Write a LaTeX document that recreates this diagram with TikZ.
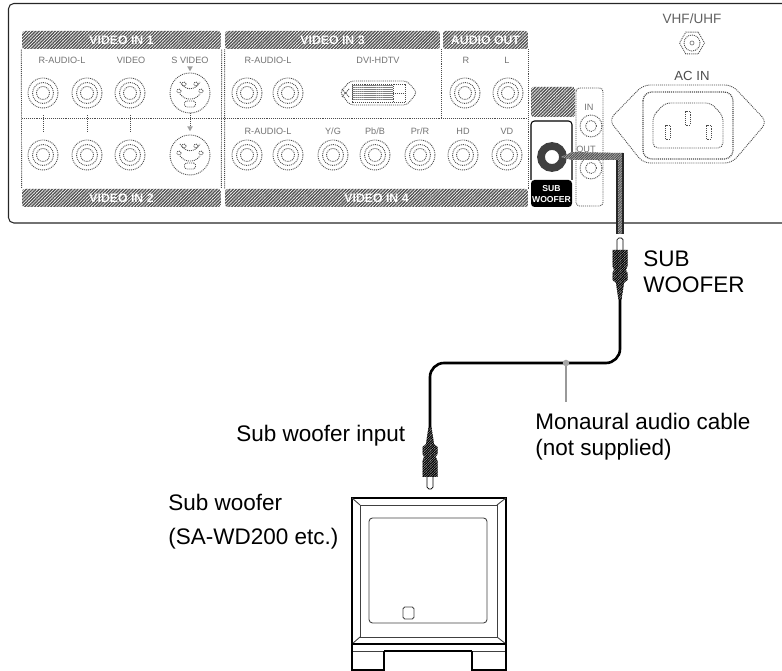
\documentclass[tikz,border=0pt]{standalone}
\usepackage{fontspec}
\setmainfont{Liberation Sans}
\usetikzlibrary{patterns.meta,shapes.geometric,calc}
\definecolor{jackgray}{gray}{0.3}
\tikzset{
  lbl/.style={inner sep=0pt, anchor=north west, align=left, font=\fontsize{12.8}{14.9}\selectfont},
  tag/.style={inner sep=0pt, text=gray!90!black, font=\fontsize{5.2}{6}\selectfont},
  bar/.style={rectangle, rounded corners=1.5pt, inner sep=0pt, minimum height=0.36cm, text=white,
    font=\fontsize{7}{8}\bfseries\selectfont, pattern={Lines[angle=45,distance=1.3pt,line width=0.8pt]}, pattern color=gray!65!black},
  dots/.style={jackgray, line width=0.5pt, dash pattern=on 0.55pt off 0.55pt},
  jack/.style={circle, draw, dots, inner sep=0pt, minimum size=0.6cm},
  jackmid/.style={circle, draw, dots, inner sep=0pt, minimum size=0.42cm},
  jackin/.style={circle, draw, dots, inner sep=0pt, minimum size=0.26cm},
  svid/.style={circle, draw, dots, inner sep=0pt, minimum size=0.8cm},
  pinhole/.style={circle, draw, dots, inner sep=0pt, minimum size=0.08cm},
  marker/.style={regular polygon, regular polygon sides=3, shape border rotate=180, fill=gray!75, inner sep=0pt, minimum size=0.13cm},
  plug/.pic={
    \fill[gray!55] (-1.5,0) -- (-4,-17) -- (-7.5,-20) -- (-7.5,-27) -- (-6,-30) -- (-7.5,-34) -- (-7.5,-50) -- (7.5,-50) -- (7.5,-34) -- (6,-30) -- (7.5,-27) -- (7.5,-20) -- (4,-17) -- (1.5,0) -- cycle;
    \fill[pattern={Lines[angle=45,distance=1pt,line width=0.7pt]}, pattern color=black]
      (-1.5,0) -- (-4,-17) -- (-7.5,-20) -- (-7.5,-27) -- (-6,-30) -- (-7.5,-34) -- (-7.5,-50) -- (7.5,-50) -- (7.5,-34) -- (6,-30) -- (7.5,-27) -- (7.5,-20) -- (4,-17) -- (1.5,0) -- cycle;
    \draw[line width=0.4pt, rounded corners=1pt] (-3,-50) -- (-3,-62) -- (3,-62) -- (3,-50);
    \coordinate (-tail) at (0,0);
  },
}
\begin{document}
\begin{tikzpicture}[x=0.02cm, y=-0.02cm]
  \useasboundingbox (0,0) rectangle (782,671);
  % rear panel
  \draw[line width=0.6pt, black!85, rounded corners=3pt] (782,3.5) -- (8.5,3.5) -- (8.5,223) -- (782,223);

  \node[bar, minimum width=3.98cm] (bar1) at (121.5,40) {VIDEO IN 1};
  \node[bar, minimum width=3.98cm] (bar2) at (121.5,198) {VIDEO IN 2};
  \node[bar, minimum width=4.3cm] (bar3) at (332.5,40) {VIDEO IN 3};
  \node[bar, minimum width=6.06cm] (bar4) at (376.5,198) {VIDEO IN 4};
  \node[bar, minimum width=1.7cm] (barout) at (485.5,40) {AUDIO OUT};

  \draw[dots] (bar1.south west) -- (bar2.north west);
  \draw[dots] (bar1.south east) -- (bar2.north east);
  \draw[dots] (bar3.south west) -- (bar4.north west);
  \draw[dots] (barout.south east) -- (barout.south east |- bar4.north);
  \draw[dots, line width=1pt] (441.5,49) -- (441.5,118);
  \draw[dots] (22,118) -- (528,118);

  % labels above the sockets
  \foreach \nm/\px/\py/\txt in {ta/62/60/R-AUDIO-L, tb/131/60/VIDEO, tc/190/60/S VIDEO, td/268/60/R-AUDIO-L,
      te/378/60/DVI-HDTV, tf/466/60/R, tg/507/60/L, th/268/131/R-AUDIO-L, ti/333/131/{Y/G}, tj/375/131/{Pb/B},
      tk/420/131/{Pr/R}, tl/463/131/HD, tm/507/131/VD, tn/589/107/IN, to/586/149/OUT}
    \node[tag] (\nm) at (\px,\py) {\txt};

  % round sockets
  \foreach \nm/\px/\py in {ja/43/93, jb/87/93, jc/130/93, ka/43/155, kb/87/155, kc/130/155,
      jd/247/93, je/288/93, jf/465/93, jg/508/93,
      kd/247/155, ke/288/155, kf/333/155, kg/375/155, kh/420/155, ki/463/155, kj/507/155} {
    \node[jack] (\nm) at (\px,\py) {};
    \node[jackmid] (\nm m) at (\nm) {};
    \node[jackin] (\nm i) at (\nm) {};
  }
  \foreach \a/\b in {ja/ka, jb/kb, jc/kc}
    \draw[dots, shorten <=0.14cm, shorten >=0.14cm] (\a) -- (\b);

  % S video sockets
  \foreach \nm/\py in {sa/93, sb/155} {
    \node[svid] (\nm) at (190,\py) {};
    \foreach \k/\dx/\dy in {p/-11/-2, q/11/-2, r/-6/-9, s/6/-9}
      \node[pinhole] (\nm\k) at (190+\dx,\py+\dy) {};
    \draw[dots] (180,\py-11) .. controls (185,\py-2) and (195,\py-2) .. (200,\py-11);
    \draw[dots, rounded corners=2pt] (180,\py+1) -- (185,\py+6) -- (195,\py+6) -- (200,\py+1);
    \node[draw, dots, rounded corners=1pt, inner sep=0pt, minimum width=0.22cm, minimum height=0.12cm] (\nm t) at (190,\py+11) {};
  }
  \node[marker] (mka) at (190,68) {};
  \node[marker] (mkb) at (190,128) {};
  \draw[dots] (sa) -- (mkb);

  % DVI socket
  \draw[dots, rounded corners=2pt] (340,92.5) -- (350,81) -- (407,81) -- (417,92.5) -- (407,105) -- (350,105) -- cycle;
  \fill[pattern={Lines[angle=0,distance=1.2pt,line width=0.4pt]}, pattern color=gray] (352,85) rectangle (393,101);
  \draw[dots] (352,84) rectangle (405,102) (393,84) -- (393,102) (393,93) -- (405,93);
  \draw[dots] (342,89) -- (349,97) (342,97) -- (349,89);

  % aerial socket and mains inlet
  \node[inner sep=0pt, text=gray!75!black, font=\fontsize{7.7}{9}\selectfont] (vhf) at (692,19) {VHF/UHF};
  \node[regular polygon, regular polygon sides=6, draw, dots, inner sep=0pt, minimum size=0.5cm] (ant) at (692,43) {};
  \node[circle, draw, dots, inner sep=0pt, minimum size=0.32cm] (antm) at (ant) {};
  \node[circle, draw, gray, line width=0.4pt, inner sep=0pt, minimum size=0.08cm] (anti) at (ant) {};
  \node[inner sep=0pt, text=gray!60!black, font=\fontsize{7.5}{9}\selectfont] (acin) at (692,76) {AC IN};
  \draw[dots, rounded corners=4pt] (609,120) -- (643,85) -- (732,85) -- (767,122) -- (732,163) -- (643,163) -- cycle;
  \draw[dots, line width=0.7pt, rounded corners=5pt] (643,92) rectangle (733,159);
  \draw[dots, rounded corners=3pt] (653,116) -- (665,103) -- (711,103) -- (723,116) -- (723,148) -- (653,148) -- cycle;
  \foreach \nm/\px/\py in {pinc/688/118, pinl/668/132, pinr/709/132}
    \node[draw, dots, inner sep=0pt, minimum width=0.1cm, minimum height=0.28cm] (\nm) at (\px,\py) {};

  % sub woofer output block
  \fill[pattern={Lines[angle=45,distance=1.3pt,line width=0.8pt]}, pattern color=gray!65!black, rounded corners=1pt] (531,87) rectangle (575,117);
  \draw[dots, rounded corners=2pt] (576,88) rectangle (603,206);
  \foreach \nm/\py in {jin/126, jut/168} {
    \node[circle, draw, dots, inner sep=0pt, minimum size=0.44cm] (\nm) at (591,\py) {};
    \node[circle, draw, dots, inner sep=0pt, minimum size=0.22cm] (\nm i) at (591,\py) {};
  }
  \draw[line width=0.6pt, rounded corners=2pt] (531,180) -- (531,121) -- (572,121) -- (572,180);
  \fill[rounded corners=2pt] (531,180) rectangle (572,207);
  \node[inner sep=0pt, align=center, text=white, font=\fontsize{4.9}{6.3}\bfseries\selectfont] (subtag) at (551.5,194) {SUB\\WOOFER};
  \node[circle, draw=black!75, line width=4.4pt, inner sep=0pt, minimum size=0.44cm] (subjack) at (552,157) {};

  % cable from the socket, hatched part
  \coordinate (cablebend) at (623,153);
  \coordinate (cableend) at (623,234);
  \fill[gray!60] (561,157) -- (572,152) -- (cablebend) -- (cableend) -- (617,234) -- (617,160) -- (572,160) -- cycle;
  \fill[pattern={Lines[angle=45,distance=1pt,line width=0.5pt]}, pattern color=black!70]
    (561,157) -- (572,152) -- (cablebend) -- (cableend) -- (617,234) -- (617,160) -- (572,160) -- cycle;
  \draw[line width=1pt, black!85] (cablebend) -- (cableend) (617,160) -- (617,234);

  % plugs and lower cable
  \pic (upplug) at (620,300) {plug};
  \pic[yscale=-1] (lowplug) at (430,427) {plug};
  \coordinate (bendr) at (620,363);
  \coordinate (bendl) at (430,363);
  \draw[line width=1.5pt, rounded corners=8pt] (upplug-tail) -- (bendr) -- (bendl) -- (lowplug-tail);

  % sub woofer box
  \draw[line width=1.1pt] (352,644) -- (352,498) -- (506,498) -- (506,644);
  \draw[line width=0.5pt, gray!50!black] (360,505) rectangle (497,637);
  \draw[line width=0.5pt, gray!50!black] (352,498) -- (360,505) (506,498) -- (497,505) (352,644) -- (360,637) (506,644) -- (497,637);
  \draw[line width=0.7pt] (352,644) -- (506,644);
  \draw[line width=0.5pt, gray!50!black, rounded corners=2pt] (369,518) rectangle (487,623);
  \draw[line width=0.5pt, gray!50!black, rounded corners=1pt] (403,607) rectangle (414,619);
  \draw[line width=0.7pt] (384,651) -- (472,651);
  \draw[line width=0.5pt, gray!50!black] (352,651) -- (384,651) (472,651) -- (506,651);
  \draw[line width=1.1pt] (352,644) -- (352,670) -- (384,670) -- (384,651) (506,644) -- (506,670) -- (472,670) -- (472,651);

  % texts
  \coordinate (leadtop) at (566,363);
  \coordinate (leadend) at (566,402);
  \draw[line width=0.8pt, gray!80] (leadtop) -- (leadend);
  \node[circle, fill=gray!70, inner sep=0pt, minimum size=0.13cm] (leaddot) at (leadtop) {};
  \node[lbl] (sublbl) at (643,250) {SUB\\WOOFER};
  \node[lbl] (cablelbl) at (535,413) {Monaural audio cable\\(not supplied)};
  \node[lbl] (inputlbl) at (236,425) {Sub woofer input};
  \node[lbl, font=\fontsize{12.8}{19.4}\selectfont] (boxlbl) at (168,494) {Sub woofer\\(SA-WD200 etc.)};
\end{tikzpicture}
\end{document}
